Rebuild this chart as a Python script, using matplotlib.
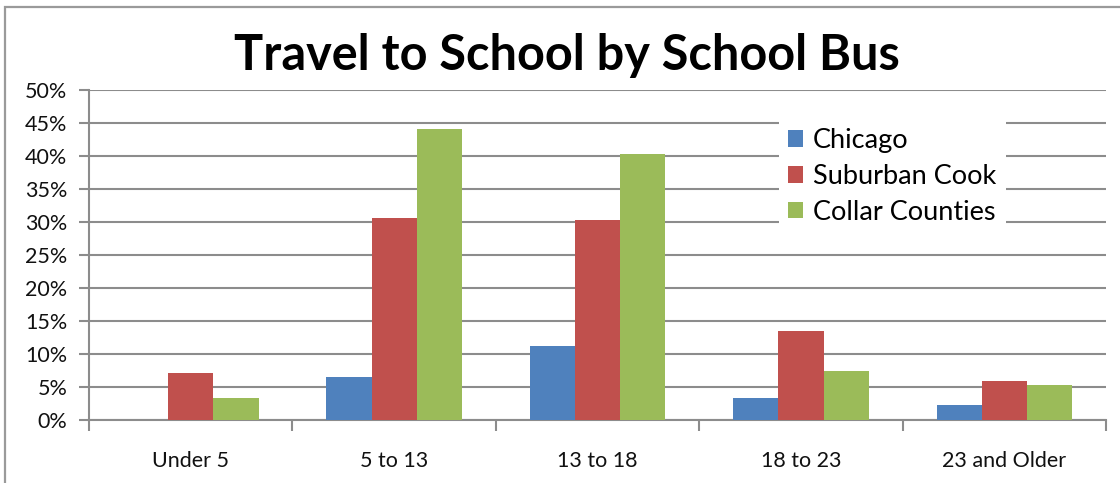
import matplotlib
matplotlib.use("Agg")
import matplotlib.pyplot as plt
import numpy as np
from matplotlib.patches import Rectangle
from matplotlib.ticker import MultipleLocator, FuncFormatter

categories = ["Under 5", "5 to 13", "13 to 18", "18 to 23", "23 and Older"]
series_names = ["Chicago", "Suburban Cook", "Collar Counties"]
chicago = [0.0, 6.4, 11.2, 3.2, 2.2]
suburban_cook = [7.1, 30.6, 30.2, 13.4, 5.8]
collar_counties = [3.2, 44.1, 40.3, 7.3, 5.2]
colors = ["#4F81BD", "#C0504D", "#9BBB59"]

plt.rcParams["font.family"] = ["Lato", "DejaVu Sans"]

W, H = 1120, 483
fig = plt.figure(figsize=(W / 100, H / 100), dpi=100)

# outer chart frame
fig.patches.append(Rectangle((5 / W, -0.1), 1.2, 1 - 7 / H + 0.1, transform=fig.transFigure,
                             fill=False, edgecolor="#9a9a9a", linewidth=1.6))

left, right = 89 / W, 1106 / W
bottom, top = 1 - 419.5 / H, 1 - 90 / H
ax = fig.add_axes([left, bottom, right - left, top - bottom])

x = np.arange(len(categories))
bw = 1 / 4.5
for i, (vals, name) in enumerate(zip([chicago, suburban_cook, collar_counties], series_names)):
    ax.bar(x + (i - 1) * bw, vals, width=bw, color=colors[i], label=name, zorder=3)

ax.set_xlim(-0.5, len(categories) - 0.5)
ax.set_ylim(0, 50)
ax.yaxis.set_major_locator(MultipleLocator(5))
ax.yaxis.set_major_formatter(FuncFormatter(lambda v, p: f"{v:.0f}%"))
ax.grid(axis="y", color="#8c8c8c", linewidth=1.5, zorder=0)
ax.set_axisbelow(True)

for s in ["top", "right"]:
    ax.spines[s].set_visible(False)
ax.spines["left"].set_color("#8c8c8c")
ax.spines["bottom"].set_color("#8c8c8c")
ax.spines["left"].set_linewidth(1.5)
ax.spines["bottom"].set_linewidth(1.5)

ax.set_xticks(np.arange(len(categories) + 1) - 0.5, minor=False)
ax.set_xticklabels([])
ax.set_xticks(x, minor=True)
ax.set_xticklabels(categories, minor=True)
ax.tick_params(axis="x", which="major", length=8, width=1.5, color="#8c8c8c")
ax.tick_params(axis="x", which="minor", length=0, pad=23, labelsize=15.5, labelcolor="#111111")
ax.tick_params(axis="y", length=7, width=1.5, color="#8c8c8c", pad=8.5, labelsize=15.5,
               labelcolor="#111111")

fig.text(567 / W, 1 - 55 / H, "Travel to School by School Bus", ha="center", va="center",
         fontsize=35, fontweight="bold", color="black")

leg = ax.legend(loc="upper left", bbox_to_anchor=((765 - 89) / (1106 - 89), (419.5 - 105) / 329.5),
                fontsize=19.5, frameon=True, fancybox=False, framealpha=1, edgecolor="none",
                facecolor="white", handlelength=0.56, handleheight=0.56, handletextpad=0.37,
                labelspacing=0.4, borderpad=0.35)

fig.savefig("out.png", dpi=100, facecolor="white")
